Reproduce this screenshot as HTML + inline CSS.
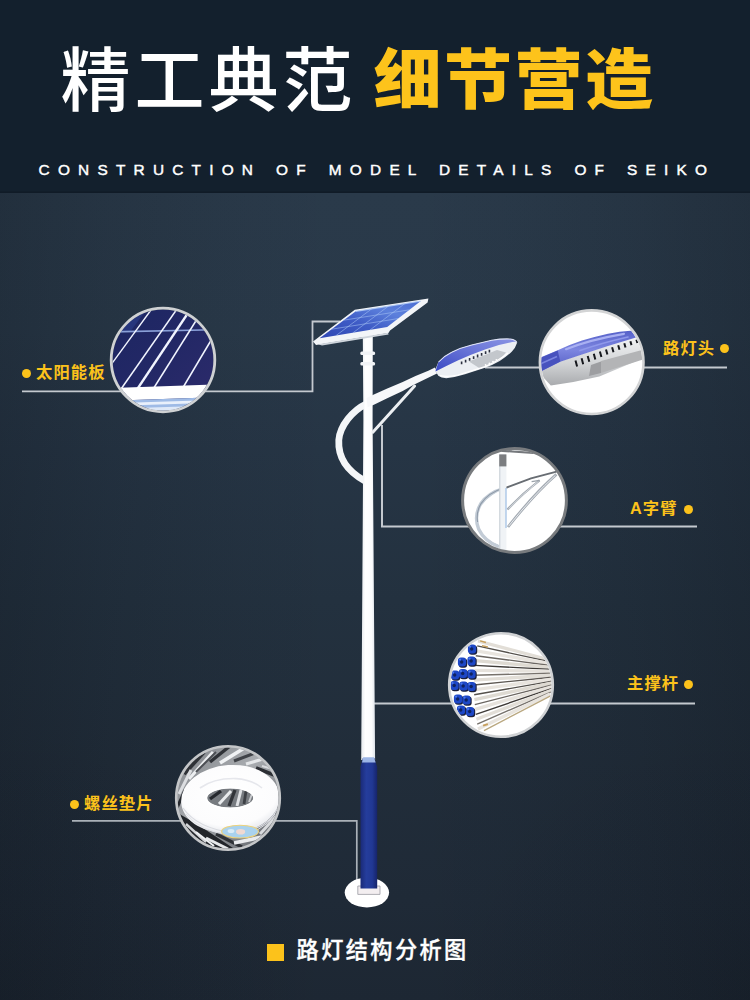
<!DOCTYPE html>
<html lang="zh-CN">
<head>
<meta charset="utf-8">
<title>路灯结构分析图</title>
<style>
html,body{margin:0;padding:0;}
body{width:750px;height:1000px;overflow:hidden;background:#1d2835;font-family:"Liberation Sans","Noto Sans CJK SC",sans-serif;}
#page{position:relative;width:750px;height:1000px;overflow:hidden;
  background:
   radial-gradient(ellipse 330px 300px at 0px 1000px, rgba(8,12,18,.08) 0%, rgba(8,12,18,0) 100%),
   radial-gradient(ellipse 330px 300px at 750px 1000px, rgba(8,12,18,.08) 0%, rgba(8,12,18,0) 100%),
   linear-gradient(90deg, rgba(8,12,18,.23) 0%, rgba(8,12,18,.12) 15%, rgba(8,12,18,.04) 32%, rgba(8,12,18,0) 45%, rgba(8,12,18,0) 55%, rgba(8,12,18,.04) 68%, rgba(8,12,18,.12) 85%, rgba(8,12,18,.23) 100%),
   linear-gradient(#2a3a4a 192px,#293949 330px,#263545 450px,#23313f 600px,#212d3a 760px,#1f2a37 900px,#1d2733 1000px);
}
#hdr{position:absolute;left:0;top:0;width:750px;height:192.6px;background:#13202d;box-shadow:inset 0 -1.5px 0 #101b27;}
.t1{position:absolute;left:60.5px;top:29.5px;font-size:70px;line-height:104px;color:#fff;font-weight:500;letter-spacing:4px;white-space:nowrap;}
.t2{position:absolute;left:373.4px;top:27.8px;font-size:68px;line-height:104px;color:#fdc31b;font-weight:900;letter-spacing:2.5px;transform-origin:0 50%;transform:scaleY(.945);white-space:nowrap;}
.sub{position:absolute;left:38.6px;top:160px;font-size:15.4px;line-height:20px;color:#fff;font-weight:400;-webkit-text-stroke:.45px #fff;letter-spacing:8.22px;word-spacing:2.4px;white-space:nowrap;}
.lab{position:absolute;font-size:16.3px;line-height:20px;font-weight:700;color:#fcc21b;white-space:nowrap;letter-spacing:1.1px;}
.dot{position:absolute;width:9.2px;height:9.2px;border-radius:50%;background:#fcc21b;}
.cap{position:absolute;left:296.6px;top:934.6px;font-size:22.2px;line-height:32px;font-weight:500;-webkit-text-stroke:.35px #fff;color:#fff;letter-spacing:2.4px;white-space:nowrap;}
.sq{position:absolute;left:267px;top:944px;width:17px;height:17px;background:#fcc21b;}
svg{position:absolute;left:0;top:0;}
</style>
</head>
<body>
<div id="page">
<div id="hdr"></div>
<div class="t1">精工典范</div>
<div class="t2">细节营造</div>
<div class="sub">CONSTRUCTION OF MODEL DETAILS OF SEIKO</div>

<svg id="art" width="750" height="1000" viewBox="0 0 750 1000">
<defs>
<linearGradient id="gPole" x1="0" x2="1" y1="0" y2="0"><stop offset="0" stop-color="#e6eaee"/><stop offset=".3" stop-color="#ffffff"/><stop offset=".75" stop-color="#fbfcfd"/><stop offset="1" stop-color="#dfe4ea"/></linearGradient>
<linearGradient id="gBase" x1="0" x2="1" y1="0" y2="0"><stop offset="0" stop-color="#1a2a78"/><stop offset=".35" stop-color="#253d9c"/><stop offset=".7" stop-color="#213894"/><stop offset="1" stop-color="#16246a"/></linearGradient>
<linearGradient id="gPanel" x1="0" x2="1" y1="1" y2="0"><stop offset="0" stop-color="#2f47b4"/><stop offset=".4" stop-color="#3f5cc6"/><stop offset=".7" stop-color="#5c80dc"/><stop offset="1" stop-color="#4a6cd2"/></linearGradient>
<linearGradient id="gLampTop" x1="0" x2="1" y1="1" y2="0"><stop offset="0" stop-color="#3a49c4"/><stop offset=".5" stop-color="#6672d6"/><stop offset="1" stop-color="#8a94e4"/></linearGradient>
<clipPath id="c1"><circle cx="163" cy="360" r="50.5"/></clipPath>
<clipPath id="c2"><circle cx="591.7" cy="362.2" r="50.5"/></clipPath>
<clipPath id="c3"><circle cx="514.5" cy="500.5" r="51"/></clipPath>
<clipPath id="c4"><circle cx="501" cy="685" r="50.5"/></clipPath>
<clipPath id="c5"><circle cx="228" cy="798" r="50.5"/></clipPath>
</defs>

<!-- leader lines -->
<g id="leaders" fill="none" stroke="#c4c9cf" stroke-width="2">
<path d="M22 391.3 H312.5 V321.5 H340" stroke-width="1.8"/>
<path d="M485 367.5 H727"/>
<path d="M382 425 V526.5 H697" />
<path d="M374 703.5 H695"/>
<path d="M72 820.8 H356.8 V887" stroke-width="1.7" stroke="#aab1b8"/>
</g>

<!-- LAMP POST -->
<g id="post">
<ellipse cx="366.9" cy="892.6" rx="22.2" ry="14.9" fill="#ffffff"/>
<!-- C curve -->
<path d="M367 403.6 C352 410.6 340 426 338.8 440 C338 455 345 470 365 481" fill="none" stroke="#f4f6f8" stroke-width="6.8" stroke-linecap="round"/>
<!-- pole -->
<path d="M362.8 334 L372.8 334 L372.6 420 L375.1 760 L361.2 760 L363.4 420 Z" fill="url(#gPole)"/>
<!-- brackets -->
<rect x="360.3" y="351.5" width="14.8" height="3.6" rx="1.5" fill="#f1f3f6"/>
<rect x="360.3" y="362" width="14.8" height="3.6" rx="1.5" fill="#f1f3f6"/>
<!-- arm -->
<path d="M366.6 398 L373.3 394.7 L386.7 388.8 L402.7 381.9 L415.5 376 L428.3 370.7 L435 367.6 L437 373.4 L426.1 378.7 L413.3 385.1 L402.7 390.9 L386.7 398.4 L373.9 404.8 L367.6 407.2 Z" fill="#f7f8fa"/>
<!-- brace -->
<path d="M414.6 386 L372.8 432.2" stroke="#eceff2" stroke-width="3" fill="none" stroke-linecap="round"/>
<!-- base -->
<path d="M357.8 886 H380 V894.4 H357.8 Z" fill="#f3eef0" stroke="#9a9aa2" stroke-width=".8"/>
<path d="M362.8 758 L374.4 758 L377.2 767 L377.2 888.5 L360.5 888.5 L360.5 767 Z" fill="url(#gBase)"/>
<path d="M363.2 757.2 L374 757.2 L375.6 762.5 L362 762.5 Z" fill="#9db6e6"/>
</g>

<!-- SOLAR PANEL -->
<g id="panel">
<path d="M313 341.4 L354.8 309.8 L428.4 298.6 L427.6 302.4 L390 330.6 L388.4 333 L316 345 Z" fill="#f3f5f8"/>
<path d="M318 344.2 L388 332.8 L388.6 334.6 L322 345.4 Z" fill="#cfd5dc"/>
<path d="M319.6 338.2 L355.8 311.2 L420.8 301 L387.2 327 Z" fill="url(#gPanel)"/>
<g fill="none" stroke="#a8c4f4" stroke-opacity=".55" stroke-width="1">
<path d="M331.6 329.2 L398 318.6"/><path d="M343.6 320.2 L409.6 309.8"/>
<path d="M336 335.6 L372 308.6"/><path d="M353 332.8 L388.6 306"/><path d="M370 330 L405 303.4"/>
</g>
<path d="M355.8 311.4 L420.6 301.2" stroke="#b9d2f8" stroke-opacity=".8" stroke-width="1.2" fill="none"/>
</g>

<!-- LAMP HEAD -->
<g id="lamp">
<path d="M435 370.3 L438.3 362.3 Q444 356 451.7 352.3 Q461 347.5 471.7 345 L491.7 340.3 Q502 338.6 510.3 339 Q516 339.8 517 343 Q515.5 348 511.7 351.7 Q506 357 499.7 361 Q493 365 485 367.7 L465 374.3 Q455 377.4 446.3 378.3 Q441 378 438.3 375.7 Z" fill="#eceff3"/>
<path d="M435.4 371.6 L438.3 362.3 Q444 356 451.7 352.3 Q461 347.5 471.7 345 L491.7 340.3 Q502 338.6 510.3 339 Q515 339.6 516.4 341.6 Q500 343.6 485 349.6 Q470 355 458.3 360.3 Q445 366.6 435.4 371.6 Z" fill="url(#gLampTop)"/>
<path d="M438.6 362 Q444 356 451.7 352.3 Q461 347.5 471.7 345 L491.7 340.3 Q502 338.6 510.3 339 Q516 339.8 516.8 342.6" fill="none" stroke="#dfe4f6" stroke-width="1.1"/>
<path d="M469 361.6 L497 350 L506 352.6 L499 360.4 L480 368.4 Z" fill="#c3c7cc"/>
<path d="M440 375.6 Q447 377.4 458 375 L485 366.6 Q499 360.6 508 353" fill="none" stroke="#ffffff" stroke-width="1.2"/>
<g fill="#ffffff"><circle cx="485.6" cy="365" r=".9"/><circle cx="489.4" cy="363.4" r=".9"/><circle cx="493" cy="361.6" r=".9"/><circle cx="496.4" cy="359.8" r=".9"/></g>
<g stroke="#2b3040" stroke-width="1.6">
<path d="M461.6 361.4v2.8M465.6 359.7v2.8M469.6 358v2.8M473.6 356.3v2.8M477.6 354.6v2.8M481.6 352.9v2.8M485.6 351.3v2.8M489.4 349.8v2.6"/>
</g>
</g>

<!-- CIRCLE 1 : solar panel closeup -->
<g id="circ1">
<defs><linearGradient id="gNavy" x1="0" x2="1" y1="0" y2="1"><stop offset="0" stop-color="#1c2662"/><stop offset=".5" stop-color="#232866"/><stop offset="1" stop-color="#2e2b6c"/></linearGradient></defs>
<g clip-path="url(#c1)">
<rect x="108" y="305" width="110" height="110" fill="url(#gNavy)"/>
<path d="M108 305 L150 305 L130 332 L108 332.4 Z" fill="#26357c"/>
<path d="M108 332 L218 329.6" stroke="#8aa0d8" stroke-width="1.6" fill="none"/>
<g stroke="#f2f5ff" fill="none" stroke-linecap="butt">
<path d="M109 367.5 L151 310" stroke-width="1.3"/>
<path d="M120 390.5 L177 309" stroke-width="1.5"/>
<path d="M137 389.5 L189 311.5" stroke-width="2.3"/>
<path d="M153.5 388.5 L198 317.5" stroke-width="1.5"/>
<path d="M183 387.5 L213 337" stroke-width="1.5"/>
</g>
<path d="M108 388.2 L218 384.4 L218 397 L108 400.8 Z" fill="#ffffff"/>
<path d="M108 400.8 L218 397 L218 416 L108 416 Z" fill="#9fbbe6"/>
<path d="M108 403.5 L218 399.8 L218 402.6 L108 406.2 Z" fill="#e9f0fb"/>
<path d="M108 409 L218 405.4 L218 409 L108 412.4 Z" fill="#dfe9f8"/>
</g>
<circle cx="163" cy="360" r="51.8" fill="none" stroke="#cfd1d3" stroke-width="2.8"/>
</g>

<!-- CIRCLE 2 : lamp head closeup -->
<g id="circ2">
<defs>
<linearGradient id="gBlueBand" x1="0" x2="0" y1="0" y2="1"><stop offset="0" stop-color="#5661c9"/><stop offset=".45" stop-color="#7d86e0"/><stop offset="1" stop-color="#4d57c0"/></linearGradient>
<linearGradient id="gSilver" x1="0" x2="0" y1="0" y2="1"><stop offset="0" stop-color="#f4f5f6"/><stop offset=".55" stop-color="#d2d4d6"/><stop offset="1" stop-color="#a9abae"/></linearGradient>
</defs>
<circle cx="591.7" cy="362.2" r="51.5" fill="#ffffff"/>
<g clip-path="url(#c2)">
<!-- body -->
<path d="M540 372 L560.3 361.5 L582 354 L608 345.4 L636 337.6 L646 336 L646 357 L599.3 376.6 L573.3 382 L550.8 385.4 L543 377 Z" fill="url(#gSilver)"/>
<path d="M601 361 L646 349 L646 358.6 L601 373 Z" fill="#b3b4b6"/>
<path d="M591 365 L601 361.4 L601 373 L589 376 Z" fill="#9d9ea1"/>
<!-- blue band -->
<path d="M538 358.4 L557.7 350.2 Q570 344.6 582 340.6 Q596 336.4 608 333.8 Q620 331.4 630.5 330.8 Q637.4 331.6 636 337.6 L608 346 L582 354.4 L560.3 361.8 L538 373 Z" fill="url(#gBlueBand)"/>
<path d="M538 359 L557.7 350.4 L560.3 361.6 L538 372.6 Z" fill="#4852be"/>
<path d="M540 364 L557 356.4" stroke="#7b85e0" stroke-width="1.6" fill="none"/>
<path d="M566 349.2 Q590 339.6 624 333.8" stroke="#a9b0f2" stroke-width="2.2" fill="none" stroke-linecap="round"/>
<path d="M580 350.6 Q600 343.4 628 337" stroke="#8f98ea" stroke-width="1.6" fill="none" stroke-linecap="round"/>
<!-- vents -->
<g stroke="#16181d" stroke-width="2" stroke-linecap="butt">
<path d="M575.5 360.4l1.6 6M581.6 358.2l1.6 6M587.7 356l1.6 5.8M593.8 353.8l1.5 5.6M599.9 351.6l1.5 5.4M606 349.4l1.4 5.2M612.1 347.3l1.4 5M618.2 345.2l1.3 4.6M624.3 343.2l1.2 4.2M630.4 341.3l1.1 3.8M636.4 339.6l1 3.4"/>
</g>
</g>
<circle cx="591.7" cy="362.2" r="51.8" fill="none" stroke="#d3d4d5" stroke-width="2.6"/>
</g>

<!-- CIRCLE 3 : A arm -->
<g id="circ3">
<circle cx="514.5" cy="500.5" r="51.5" fill="#ffffff"/>
<g clip-path="url(#c3)" fill="none">
<!-- C curve -->
<path d="M504 488.5 Q488 493 480.6 504 Q473.6 516 478.6 529 Q484.6 541.6 499 546.6" stroke="#c3ccd6" stroke-width="3.4"/>
<path d="M504 488 Q488.6 492.4 481 503.6 Q476 512 477.6 522" stroke="#8e9aa8" stroke-width="1.1"/>
<path d="M505 489.6 Q490.6 494.4 483.6 505 Q477.6 516 482 528.4 Q487.6 539.6 500 544.4" stroke="#ffffff" stroke-width="1.3"/>
<!-- main arm -->
<path d="M556.6 471.6 L531 478.4 L506 487.8" stroke="#686d73" stroke-width="2"/>
<!-- inner V lines -->
<path d="M539.6 480.4 Q522 494 507.4 509.6" stroke="#a2a9b1" stroke-width="2.2"/>
<path d="M538.6 481.2 Q522 494.4 508.4 508.8" stroke="#eef1f4" stroke-width=".7"/>
<path d="M556.4 474.4 Q534 494 508 527" stroke="#a4abb3" stroke-width="2.8"/>
<path d="M555.4 475.4 Q534 494.6 508.6 526.2" stroke="#f0f3f6" stroke-width=".9"/>
<path d="M539.6 480.4 L531.6 481.6" stroke="#9aa1a9" stroke-width="1.4"/>
<!-- pole -->
<rect x="499.4" y="454" width="7" height="100" fill="#f0f3f6" stroke="none"/>
<path d="M499.8 466 V552" stroke="#c6cdd5" stroke-width="1"/>
<path d="M506 488 V528" stroke="#9fc0e6" stroke-width="1.2"/>
<rect x="499.2" y="454.4" width="7.2" height="12" fill="#7b7d80" stroke="none"/>
<path d="M499 450.6 L537 453.2" stroke="#75787c" stroke-width="2.2"/>
<path d="M512 450 L536 451.6" stroke="#d8dadc" stroke-width="1"/>
</g>
<circle cx="514.5" cy="500.5" r="51.9" fill="none" stroke="#787b7e" stroke-width="3"/>
</g>

<!-- CIRCLE 4 : main poles -->
<g id="circ4">
<circle cx="501" cy="685" r="51.5" fill="#ffffff"/>
<g clip-path="url(#c4)">
<g fill="none" stroke-linecap="butt">
<path d="M478.0 641.0 L550.0 660.0" stroke="#e2ded7" stroke-width="3.3"/>
<path d="M477.2 645.9 L550.8 661.9" stroke="#55514c" stroke-width="1.4"/>
<path d="M476.4 650.8 L551.6 663.8" stroke="#e8e4de" stroke-width="3.3"/>
<path d="M475.8 655.7 L552.2 665.7" stroke="#6b6661" stroke-width="1.4"/>
<path d="M475.2 660.6 L552.8 667.6" stroke="#dedad2" stroke-width="3.3"/>
<path d="M474.8 665.4 L553.2 669.4" stroke="#3f3b38" stroke-width="1.4"/>
<path d="M474.4 670.3 L553.6 671.3" stroke="#e6e2dc" stroke-width="3.3"/>
<path d="M474.2 675.2 L553.8 673.2" stroke="#77726c" stroke-width="1.4"/>
<path d="M474.0 680.1 L554.0 675.1" stroke="#e2ded7" stroke-width="3.3"/>
<path d="M474.0 685.0 L554.0 677.0" stroke="#5d5853" stroke-width="1.4"/>
<path d="M474.0 689.9 L554.0 678.9" stroke="#e8e4de" stroke-width="3.3"/>
<path d="M474.2 694.8 L553.8 680.8" stroke="#55514c" stroke-width="1.4"/>
<path d="M474.4 699.7 L553.6 682.7" stroke="#dedad2" stroke-width="3.3"/>
<path d="M474.8 704.6 L553.2 684.6" stroke="#6b6661" stroke-width="1.4"/>
<path d="M475.2 709.4 L552.8 686.4" stroke="#e6e2dc" stroke-width="3.3"/>
<path d="M475.8 714.3 L552.2 688.3" stroke="#3f3b38" stroke-width="1.4"/>
<path d="M476.4 719.2 L551.6 690.2" stroke="#e2ded7" stroke-width="3.3"/>
<path d="M477.2 724.1 L550.8 692.1" stroke="#77726c" stroke-width="1.4"/>
<path d="M478.0 729.0 L550.0 694.0" stroke="#e8e4de" stroke-width="3.3"/>
<path d="M484 730.6 L551 695.6" stroke="#b9a77f" stroke-width="1.3"/>
</g>
<!-- blue caps -->
<g fill="#1a1e3a">
<rect x="468.8" y="645.4" width="8.4" height="9.4" rx="3"/><rect x="458.8" y="658.4" width="8.4" height="9.4" rx="3"/><rect x="468.3" y="657.4" width="8.4" height="9.4" rx="3"/><rect x="451.8" y="671.4" width="8.4" height="9.4" rx="3"/><rect x="459.8" y="669.9" width="8.4" height="9.4" rx="3"/><rect x="468.3" y="670.4" width="8.4" height="9.4" rx="3"/><rect x="451.3" y="681.9" width="8.4" height="9.4" rx="3"/><rect x="460.3" y="682.4" width="8.4" height="9.4" rx="3"/><rect x="468.3" y="682.9" width="8.4" height="9.4" rx="3"/><rect x="454.8" y="695.4" width="8.4" height="9.4" rx="3"/><rect x="463.3" y="696.4" width="8.4" height="9.4" rx="3"/><rect x="457.8" y="706.4" width="8.4" height="9.4" rx="3"/><rect x="466.8" y="707.9" width="8.4" height="9.4" rx="3"/>
</g>
<g fill="#1d47c6">
<rect x="467.9" y="644.4" width="8.2" height="9.2" rx="3"/><rect x="457.9" y="657.4" width="8.2" height="9.2" rx="3"/><rect x="467.4" y="656.4" width="8.2" height="9.2" rx="3"/><rect x="450.9" y="670.4" width="8.2" height="9.2" rx="3"/><rect x="458.9" y="668.9" width="8.2" height="9.2" rx="3"/><rect x="467.4" y="669.4" width="8.2" height="9.2" rx="3"/><rect x="450.4" y="680.9" width="8.2" height="9.2" rx="3"/><rect x="459.4" y="681.4" width="8.2" height="9.2" rx="3"/><rect x="467.4" y="681.9" width="8.2" height="9.2" rx="3"/><rect x="453.9" y="694.4" width="8.2" height="9.2" rx="3"/><rect x="462.4" y="695.4" width="8.2" height="9.2" rx="3"/><rect x="456.9" y="705.4" width="8.2" height="9.2" rx="3"/><rect x="465.9" y="706.9" width="8.2" height="9.2" rx="3"/>
</g>
<g fill="#10235f">
<circle cx="471.7" cy="649.0" r="1.7"/><circle cx="461.7" cy="662.0" r="1.7"/><circle cx="471.2" cy="661.0" r="1.7"/><circle cx="454.7" cy="675.0" r="1.7"/><circle cx="462.7" cy="673.5" r="1.7"/><circle cx="471.2" cy="674.0" r="1.7"/><circle cx="454.2" cy="685.5" r="1.7"/><circle cx="463.2" cy="686.0" r="1.7"/><circle cx="471.2" cy="686.5" r="1.7"/><circle cx="457.7" cy="699.0" r="1.7"/><circle cx="466.2" cy="700.0" r="1.7"/><circle cx="460.7" cy="710.0" r="1.7"/><circle cx="469.7" cy="711.5" r="1.7"/>
</g>
<g fill="#4b78ea">
<circle cx="470.0" cy="646.6" r="1.1"/><circle cx="460.0" cy="659.6" r="1.1"/><circle cx="469.5" cy="658.6" r="1.1"/><circle cx="453.0" cy="672.6" r="1.1"/><circle cx="461.0" cy="671.1" r="1.1"/><circle cx="469.5" cy="671.6" r="1.1"/><circle cx="452.5" cy="683.1" r="1.1"/><circle cx="461.5" cy="683.6" r="1.1"/><circle cx="469.5" cy="684.1" r="1.1"/><circle cx="456.0" cy="696.6" r="1.1"/><circle cx="464.5" cy="697.6" r="1.1"/><circle cx="459.0" cy="707.6" r="1.1"/><circle cx="468.0" cy="709.1" r="1.1"/>
</g>
<g fill="#c89f5a"><rect x="480" y="641" width="6" height="1.4" transform="rotate(15 483 641.6)"/><rect x="482" y="645.6" width="6" height="1.4" transform="rotate(13 485 646)"/><rect x="483" y="724" width="5" height="2" transform="rotate(-17 485 725)"/></g>
</g>
<circle cx="501" cy="685" r="51.8" fill="none" stroke="#d0d2d4" stroke-width="2.6"/>
</g>

<!-- CIRCLE 5 : washers -->
<g id="circ5">
<defs>
<radialGradient id="gCoil" cx=".5" cy=".4" r=".62"><stop offset="0" stop-color="#ffffff"/><stop offset=".78" stop-color="#fcfcfd"/><stop offset="1" stop-color="#e4e6eb"/></radialGradient>
<linearGradient id="gMetal" x1="0" x2="1" y1="0" y2="1"><stop offset="0" stop-color="#7d8186"/><stop offset=".45" stop-color="#a9acb0"/><stop offset="1" stop-color="#595d63"/></linearGradient>
</defs>
<circle cx="228" cy="798" r="51.5" fill="url(#gMetal)"/>
<g clip-path="url(#c5)">
<path d="M176 812 L200 826 L236 850 L200 852 L176 836 Z" fill="#22252a"/>
<path d="M176 770 L196 750 L186 748 L174 764 Z" fill="#3a3d42"/>
<g stroke-linecap="butt" fill="none">
<path d="M184 774 L204 752" stroke="#2e3136" stroke-width="4"/>
<path d="M189 779 L213 752" stroke="#eceef0" stroke-width="3"/>
<path d="M196 772 L216 752" stroke="#4b4e53" stroke-width="2"/>
<path d="M210 762 L230 746" stroke="#2f3237" stroke-width="3.4"/>
<path d="M220 763 L246 747" stroke="#f0f2f4" stroke-width="3.6"/>
<path d="M234 761 L260 751" stroke="#3f4247" stroke-width="3"/>
<path d="M246 764 L270 757" stroke="#e6e8ea" stroke-width="3"/>
<path d="M256 768 L282 778" stroke="#2b2e33" stroke-width="3.6"/>
<path d="M262 766 L276 770" stroke="#d9dbde" stroke-width="2"/>
<path d="M179 794 L191 770" stroke="#dcdee1" stroke-width="3"/>
<path d="M177 808 L185 790" stroke="#26292e" stroke-width="3"/>
<path d="M186 824 L206 842" stroke="#d4d6d9" stroke-width="2.4"/>
<path d="M196 832 L214 846" stroke="#f0f2f4" stroke-width="2"/>
<path d="M206 838 L228 849" stroke="#e6e8ea" stroke-width="3"/>
<path d="M216 834 L242 847" stroke="#2e3136" stroke-width="3.4"/>
<path d="M234 843 L262 837" stroke="#eaecee" stroke-width="3.6"/>
<path d="M250 847 L274 829" stroke="#35383d" stroke-width="3"/>
<path d="M260 834 L280 812" stroke="#d8dadd" stroke-width="3"/>
<path d="M270 802 L282 790" stroke="#3b3e43" stroke-width="3"/>
</g>
<ellipse cx="230.4" cy="799.2" rx="49.3" ry="34.2" fill="url(#gCoil)" transform="rotate(-4 230.4 799.2)"/>
<path d="M183 808 Q197 828 232 832.6 Q266 832 278 808" fill="none" stroke="#d9dbe1" stroke-width="1.2"/>
<path d="M186 814 Q200 831.6 232 835.4 Q262 834.6 275 814" fill="none" stroke="#e0e2e7" stroke-width="1"/>
<path d="M200 788 Q214 778 236 778.6 Q252 779.6 262 788" fill="none" stroke="#e6e7ec" stroke-width="1.6"/>
<ellipse cx="230.2" cy="798" rx="23.2" ry="9.7" fill="#777b80"/>
<g stroke-linecap="butt" fill="none">
<path d="M210 799 L221 791" stroke="#25282d" stroke-width="3.4"/>
<path d="M219 804 L231 791" stroke="#e9ebed" stroke-width="3"/>
<path d="M229 806 L235 790" stroke="#303338" stroke-width="3.4"/>
<path d="M237 806 L241 790" stroke="#dfe1e4" stroke-width="3"/>
<path d="M244 804 L246 791" stroke="#3d4045" stroke-width="2.8"/>
<path d="M249 802 L252 794" stroke="#c9cbce" stroke-width="2"/>
</g>
<ellipse cx="230.2" cy="798" rx="24" ry="10.5" fill="none" stroke="#ffffff" stroke-width="2"/>
<ellipse cx="240" cy="831.6" rx="18.4" ry="6.4" fill="#a9d2ee"/>
<ellipse cx="240" cy="831.6" rx="18.4" ry="6.4" fill="none" stroke="#ecd27c" stroke-width="1.1"/>
<ellipse cx="240.6" cy="831.8" rx="4.6" ry="2.8" fill="#f0d9d2"/>
<ellipse cx="231" cy="831" rx="3.4" ry="2" fill="#d9ecf8"/>
</g>
<circle cx="228" cy="798" r="51.8" fill="none" stroke="#c4c6c8" stroke-width="2.6"/>
</g>
</svg>

<div class="dot" style="left:22px;top:368.8px"></div>
<div class="lab" style="left:36px;top:361.6px">太阳能板</div>
<div class="lab" style="left:663px;top:337.6px">路灯头</div>
<div class="dot" style="left:720px;top:344px"></div>
<div class="lab" style="left:630px;top:498.4px">A字臂</div>
<div class="dot" style="left:684px;top:505px"></div>
<div class="lab" style="left:627px;top:673px">主撑杆</div>
<div class="dot" style="left:684px;top:680px"></div>
<div class="dot" style="left:69.8px;top:800px"></div>
<div class="lab" style="left:84px;top:793px">螺丝垫片</div>

<div class="sq"></div>
<div class="cap">路灯结构分析图</div>
</div>
</body>
</html>
